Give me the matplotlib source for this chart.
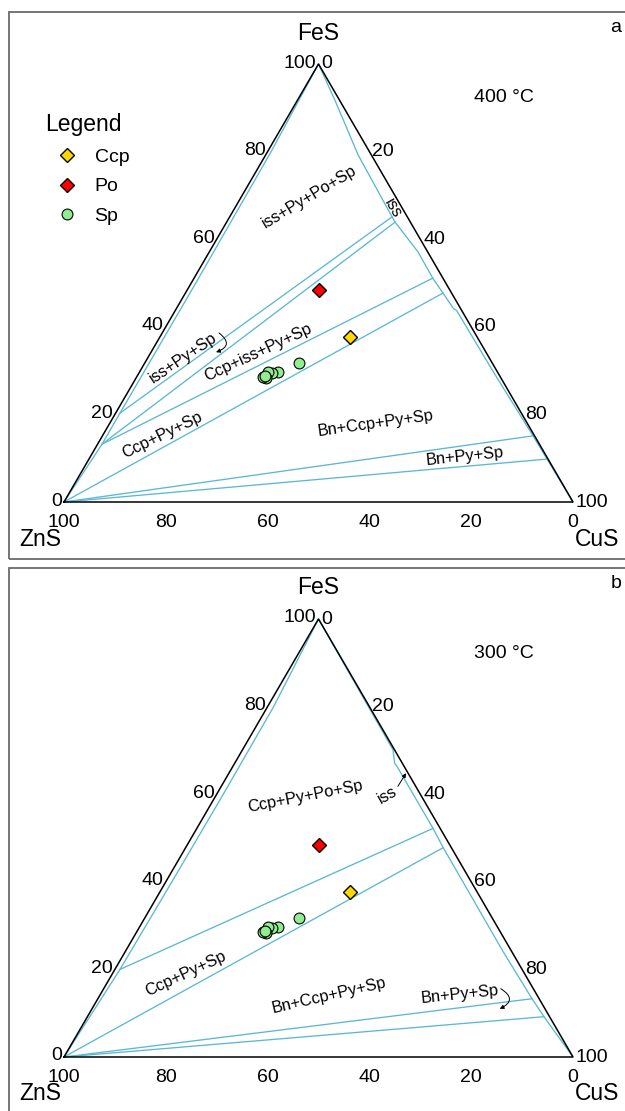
import numpy as np
import matplotlib
matplotlib.use("Agg")
import matplotlib.pyplot as plt
from matplotlib.lines import Line2D
from matplotlib.patches import Rectangle

plt.rcParams['font.family'] = ['Liberation Sans', 'DejaVu Sans']

# Mineral compositions, mol% given as (FeS, CuS); ZnS is the remainder
ccp_fes = [37.7]
ccp_cus = [37.3]
po_fes = [48.4]
po_cus = [25.9]
sp_fes = [31.7, 29.7, 29.5, 29.7, 28.5, 28.3, 28.5, 28.8]
sp_cus = [30.3, 27.2, 26.1, 25.3, 25.2, 25.5, 24.8, 25.0]

tick_values = [0, 20, 40, 60, 80, 100]

# 400 °C phase relations (FeS, CuS)
a_sp_limit = ([0, 13.2, 20.3, 50, 80, 100], [0, 0.87, 0.85, 0.9, 0.7, 0])
a_iss_limit = ([100, 91.8, 79.2, 65.1, 63.9, 57.1, 51.1, 47.7, 44.2, 43.7, 30.0, 15.1, 9.8, 0],
               [0, 7.3, 18.2, 31.9, 33.1, 41.0, 46.9, 50.6, 54.4, 55.3, 69.2, 84.6, 90.0, 100])
a_tie_lines = [
    ([20.3, 65.1], [0.85, 31.9]),
    ([13.2, 63.9], [0.87, 33.1]),
    ([13.2, 51.1], [0.87, 46.9]),
    ([0, 47.7], [0, 50.6]),
    ([0, 15.1], [0, 84.6]),
    ([0, 9.8], [0, 90.0]),
]
a_labels = ["iss+Py+Po+Sp", "iss", "iss+Py+Sp", "Ccp+iss+Py+Sp", "Ccp+Py+Sp",
            "Bn+Ccp+Py+Sp", "Bn+Py+Sp"]
a_label_fes = [69.6, 67.1, 32.9, 34.2, 15.3, 18.0, 10.3]
a_label_cus = [13.3, 31.1, 6.9, 21.0, 11.6, 52.3, 73.6]
a_label_rot = [31, -60, 34, 25, 26, 8, 6]
a_arrows = [((38.6, 11.15), (34.2, 12.76), -0.9)]

# 300 °C phase relations (FeS, CuS)
b_sp_limit = ([0, 20, 40, 60, 80, 100], [0, 1.0, 1.2, 1.3, 1.2, 0])
b_iss_limit = ([100, 70.1, 67.1, 66.0, 52.2, 47.8, 24.1, 13.3, 9.2, 0],
               [0, 29.6, 31.4, 32.6, 46.4, 50.6, 74.2, 85.3, 89.7, 100])
b_tie_lines = [
    ([20.0, 52.2], [1.0, 46.4]),
    ([0, 47.8], [0, 50.6]),
    ([0, 13.3], [0, 85.3]),
    ([0, 9.2], [0, 89.7]),
]
b_labels = ["Ccp+Py+Po+Sp", "iss", "Ccp+Py+Sp", "Bn+Ccp+Py+Sp", "Bn+Py+Sp"]
b_label_fes = [59.5, 59.7, 19.1, 14.0, 14.25]
b_label_cus = [17.6, 33.7, 14.4, 45.0, 70.7]
b_label_rot = [11, 30, 25, 13, 6]
b_arrows = [((61.8, 34.7), (64.8, 34.8), 0.0), ((15.6, 78.0), (11.0, 80.1), -0.9)]

W, H = 625, 1111
SX = 509.0                      # px per unit along the ZnS-CuS side
SY = 438.0 / (np.sqrt(3) / 2)   # px per unit vertically
X0 = 64.0                       # ZnS corner, px from left
LINE_C = '#5BB8D4'
PT = 0.72                       # points per pixel at 100 dpi


def tern(fes, cus):
    fes = np.asarray(fes, float) / 100.0
    cus = np.asarray(cus, float) / 100.0
    return cus + fes / 2.0, fes * np.sqrt(3) / 2.0


fig = plt.figure(figsize=(W / 100, H / 100), dpi=100)


def panel(base_px, top_px, bottom_px, tag, temp, sp_limit, iss_limit, ties,
          labels, lab_fes, lab_cus, lab_rot, arrows, legend=False):
    ax = fig.add_axes([0, 0, 1, 1], facecolor='none')
    ax.set_xlim((0 - X0) / SX, (W - X0) / SX)
    ax.set_ylim((base_px - H) / SY, base_px / SY)
    ax.axis('off')

    # panel frame
    fig.add_artist(Rectangle((9 / W, 1 - bottom_px / H), 1.0, (bottom_px - top_px) / H,
                             transform=fig.transFigure, fill=False,
                             edgecolor='#6a6a6a', lw=1.3))

    # triangle outline
    tx, ty = tern([0, 0, 100, 0], [0, 100, 0, 0])
    ax.plot(tx, ty, color='black', lw=1.1, zorder=3, solid_joinstyle='miter')

    # phase boundaries
    for fes, cus in [sp_limit, iss_limit] + ties:
        x, y = tern(fes, cus)
        ax.plot(x, y, color=LINE_C, lw=0.95, zorder=2)

    # axis tick labels
    for v in tick_values:
        x, y = tern(v, 0)
        ax.annotate(str(v), (x, y), xytext=(-2 * PT, 1 * PT), textcoords='offset points',
                    ha='right', va='center', fontsize=14)
        x, y = tern(100 - v, v)
        ax.annotate(str(v), (x, y), xytext=(3 * PT, 0), textcoords='offset points',
                    ha='left', va='center', fontsize=14)
        x, y = tern(0, 100 - v)
        ax.annotate(str(v), (x, y), xytext=(0, -20 * PT), textcoords='offset points',
                    ha='center', va='center', fontsize=14)

    # end-member names
    for name, (f, c), off in [('FeS', (100, 0), (0, 31)),
                              ('ZnS', (0, 0), (-24, -37)),
                              ('CuS', (0, 100), (24, -37))]:
        x, y = tern(f, c)
        ax.annotate(name, (x, y), xytext=(off[0] * PT, off[1] * PT),
                    textcoords='offset points', ha='center', va='center', fontsize=16.5)

    # field labels
    for t, f, c, r in zip(labels, lab_fes, lab_cus, lab_rot):
        x, y = tern(f, c)
        ax.text(x, y, t, rotation=r, ha='center', va='center', fontsize=11.8,
                rotation_mode='anchor', zorder=4)

    for (f0, c0), (f1, c1), rad in arrows:
        xs, ys = tern(f0, c0)
        xe, ye = tern(f1, c1)
        ax.annotate('', xy=(xe, ye), xytext=(xs, ys),
                    arrowprops=dict(arrowstyle='-|>', color='black', lw=0.7,
                                    mutation_scale=6, shrinkA=0, shrinkB=0,
                                    connectionstyle=f'arc3,rad={rad}'))

    # mineral analyses
    x, y = tern(sp_fes, sp_cus)
    ax.plot(x, y, 'o', ms=7.8, mfc='#90EE90', mec='black', mew=0.8, ls='none', zorder=5)
    x, y = tern(ccp_fes, ccp_cus)
    ax.plot(x, y, 'D', ms=7.4, mfc='#FFD700', mec='black', mew=1.0, ls='none', zorder=6)
    x, y = tern(po_fes, po_cus)
    ax.plot(x, y, 'D', ms=7.4, mfc='#FF0000', mec='black', mew=1.0, ls='none', zorder=6)

    fig.text(504 / W, 1 - (top_px + 85) / H, temp, ha='center', va='center', fontsize=14)
    fig.text(616 / W, 1 - (top_px + 15) / H, tag, ha='center', va='center', fontsize=14)

    if legend:
        handles = [
            Line2D([], [], marker='D', ms=7.4, mfc='#FFD700', mec='black', mew=1.0, ls='none'),
            Line2D([], [], marker='D', ms=7.4, mfc='#FF0000', mec='black', mew=1.0, ls='none'),
            Line2D([], [], marker='o', ms=7.8, mfc='#90EE90', mec='black', mew=0.8, ls='none'),
        ]
        ax.legend(handles, ['Ccp', 'Po', 'Sp'], title='Legend', frameon=False,
                  loc='upper left', bbox_to_anchor=(45 / W, 1 - 113 / H),
                  bbox_transform=fig.transFigure, borderaxespad=0, borderpad=0,
                  fontsize=14, title_fontsize=16.5, handlelength=2.3,
                  handletextpad=0.25, labelspacing=0.62, alignment='left')
    return ax


panel(502, 12, 559, 'a', '400 °C', a_sp_limit, a_iss_limit, a_tie_lines,
      a_labels, a_label_fes, a_label_cus, a_label_rot, a_arrows, legend=True)
panel(1057, 568, 1130, 'b', '300 °C', b_sp_limit, b_iss_limit, b_tie_lines,
      b_labels, b_label_fes, b_label_cus, b_label_rot, b_arrows)

fig.savefig('out.png', dpi=100)
